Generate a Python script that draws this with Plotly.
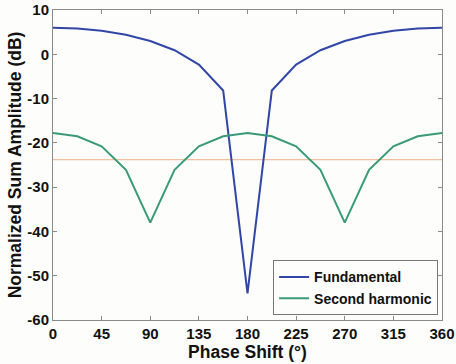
import plotly.graph_objects as go

phase = [0, 22.5, 45, 67.5, 90, 112.5, 135, 157.5, 180, 202.5, 225, 247.5, 270, 292.5, 315, 337.5, 360]
fundamental = [6.0, 5.85, 5.33, 4.42, 3.01, 0.92, -2.32, -8.18, -54.0, -8.18, -2.32, 0.92, 3.01, 4.42, 5.33, 5.85, 6.0]
second = [-17.8, -18.5, -20.8, -26.1, -38.0, -26.1, -20.8, -18.5, -17.8, -18.5, -20.8, -26.1, -38.0, -26.1, -20.8, -18.5, -17.8]
ref_level = -23.8
x_ticks = [0, 45, 90, 135, 180, 225, 270, 315, 360]
y_ticks = [10, 0, -10, -20, -30, -40, -50, -60]

font_b = dict(family="Liberation Sans, Arial, sans-serif", size=15, color="#111", weight="bold")

fig = go.Figure()
fig.add_trace(go.Scatter(x=[phase[0], phase[-1]], y=[ref_level, ref_level], mode="lines",
                         line=dict(color="#efbfa3", width=1.3), showlegend=False, hoverinfo="skip"))
fig.add_trace(go.Scatter(x=phase, y=fundamental, mode="lines", name="Fundamental",
                         line=dict(color="#3146a6", width=2)))
fig.add_trace(go.Scatter(x=phase, y=second, mode="lines", name="Second harmonic",
                         line=dict(color="#3a9a78", width=2)))

axis_common = dict(showgrid=False, zeroline=False, showline=True, linecolor="#8a8a8a", linewidth=1,
                   mirror="ticks", ticks="inside", ticklen=4, tickcolor="#8a8a8a", tickfont=font_b,
                   ticklabeloverflow="allow", automargin=False)
fig.update_xaxes(range=[0, 360], tickvals=x_ticks, ticktext=[str(v) for v in x_ticks],
                 title=dict(text="Phase Shift (°)", font=dict(font_b, size=17.5), standoff=2), **axis_common)
fig.update_yaxes(range=[-60, 10], tickvals=y_ticks, ticktext=[str(v) for v in y_ticks],
                 title=dict(text="Normalized Sum Amplitude (dB)", font=dict(font_b, size=17.5), standoff=1),
                 **axis_common)

fig.update_layout(
    width=456, height=364,
    margin=dict(l=53, r=14, t=10, b=44),
    paper_bgcolor="#fdfdfb", plot_bgcolor="#fdfdfb",
    legend=dict(x=0.99, y=0.015, xanchor="right", yanchor="bottom",
                bordercolor="#777", borderwidth=1, bgcolor="#fdfdfb",
                font=dict(font_b, size=14), tracegroupgap=0, itemwidth=30),
    showlegend=True,
)

fig.write_html("out.html")
